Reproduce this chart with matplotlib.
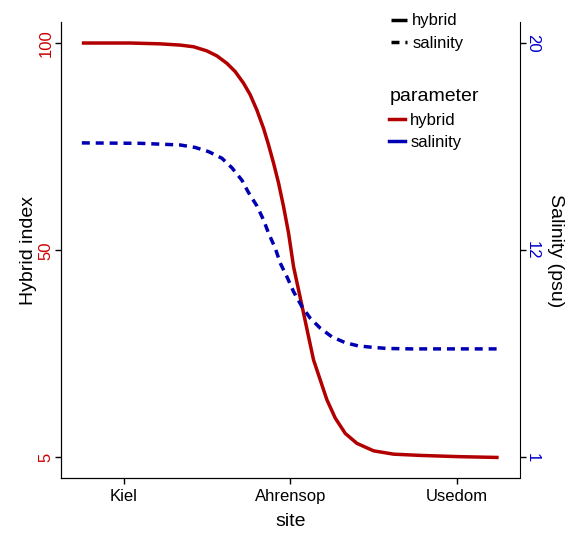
import numpy as np
import matplotlib.pyplot as plt
from matplotlib.lines import Line2D

plt.rcParams['font.family'] = ['Liberation Sans', 'DejaVu Sans']

# site positions on the x axis
sites = ['Kiel', 'Ahrensop', 'Usedom']
site_pos = [1, 2, 3]

# curves (scaled 0..1 on the shared y axis)
hybrid_x = [0.75, 1.04, 1.22, 1.34, 1.42, 1.50, 1.56, 1.62, 1.67, 1.72, 1.76, 1.80,
            1.84, 1.87, 1.90, 1.93, 1.96, 1.99, 2.02, 2.05, 2.08, 2.11, 2.14, 2.18,
            2.22, 2.27, 2.33, 2.40, 2.50, 2.62, 2.78, 3.01, 3.25]
hybrid_y = [1.0, 1.0, 0.998, 0.995, 0.991, 0.981, 0.969, 0.951, 0.931, 0.903, 0.875, 0.838,
            0.794, 0.754, 0.710, 0.662, 0.605, 0.541, 0.460, 0.404, 0.348, 0.291, 0.235, 0.187,
            0.139, 0.095, 0.058, 0.034, 0.016, 0.008, 0.005, 0.002, 0.0]

salinity_x = [0.75, 1.10, 1.34, 1.43, 1.51, 1.59, 1.65, 1.71, 1.75, 1.80, 1.84, 1.87,
              1.91, 1.94, 1.98, 2.02, 2.07, 2.12, 2.18, 2.25, 2.33, 2.41, 2.49, 2.58,
              2.73, 3.25]
salinity_y = [0.759, 0.758, 0.754, 0.748, 0.738, 0.722, 0.699, 0.669, 0.639, 0.607, 0.573, 0.541,
              0.505, 0.469, 0.436, 0.400, 0.364, 0.336, 0.312, 0.291, 0.277, 0.269, 0.266, 0.263,
              0.262, 0.262]

tick_pos = [0, 0.5, 1]
hybrid_labels = ['5', '50', '100']
salinity_labels = ['1', '12', '20']

red = '#B20000'
blue = '#0000B2'
lw = 2.5
dash = (2.3, 1.7)

fig = plt.figure(figsize=(5.68, 5.36), dpi=100)
ax = fig.add_axes([61 / 568, 1 - 478.2 / 536, (519.5 - 61) / 568, (478.2 - 22.3) / 536])

ax.plot(hybrid_x, hybrid_y, color=red, lw=lw, solid_capstyle='butt', solid_joinstyle='round')
ax.plot(salinity_x, salinity_y, color=blue, lw=lw, dashes=dash, dash_capstyle='butt')

ax.set_xlim(0.625, 3.375)
ax.set_ylim(-0.05, 1.05)

ax.set_xticks(site_pos)
ax.set_xticklabels(sites, fontsize=12)
ax.set_yticks(tick_pos)
ax.set_yticklabels(hybrid_labels, fontsize=12, color='#CC0000', rotation=90, va='center')
ax.set_xlabel('site', fontsize=14, labelpad=7)
ax.set_ylabel('Hybrid index', fontsize=14, labelpad=1)

ax2 = ax.twinx()
ax2.set_ylim(ax.get_ylim())
ax2.set_yticks(tick_pos)
ax2.set_yticklabels(salinity_labels, fontsize=12, color='#0000CC', rotation=-90, va='center')
ax2.set_ylabel('Salinity (psu)', fontsize=14, rotation=-90, labelpad=17)

for a in (ax, ax2):
    a.spines['top'].set_visible(False)
    a.tick_params(length=4, width=1, direction='out')
ax.spines['right'].set_visible(False)
ax.tick_params(axis='y', pad=1.5)
ax2.tick_params(axis='y', pad=0)

# line type legend
lt_handles = [Line2D([], [], color='black', lw=lw, solid_capstyle='butt'),
              Line2D([], [], color='black', lw=lw, dashes=dash, dash_capstyle='butt')]
leg1 = fig.legend(lt_handles, ['hybrid', 'salinity'], loc='upper left',
                  bbox_to_anchor=(383 / 568, 1 - 5 / 536), frameon=False, fontsize=12,
                  handlelength=0.95, handletextpad=0.3, labelspacing=0.45, borderpad=0)

# colour legend
col_handles = [Line2D([], [], color=red, lw=lw), Line2D([], [], color=blue, lw=lw)]
leg2 = fig.legend(col_handles, ['hybrid', 'salinity'], title='parameter', loc='upper left',
                  bbox_to_anchor=(381 / 568, 1 - 80 / 536), frameon=False, fontsize=12,
                  title_fontsize=14, handlelength=0.95, handletextpad=0.3,
                  labelspacing=0.45, borderpad=0, alignment='left')

fig.savefig('out.png', dpi=100)
